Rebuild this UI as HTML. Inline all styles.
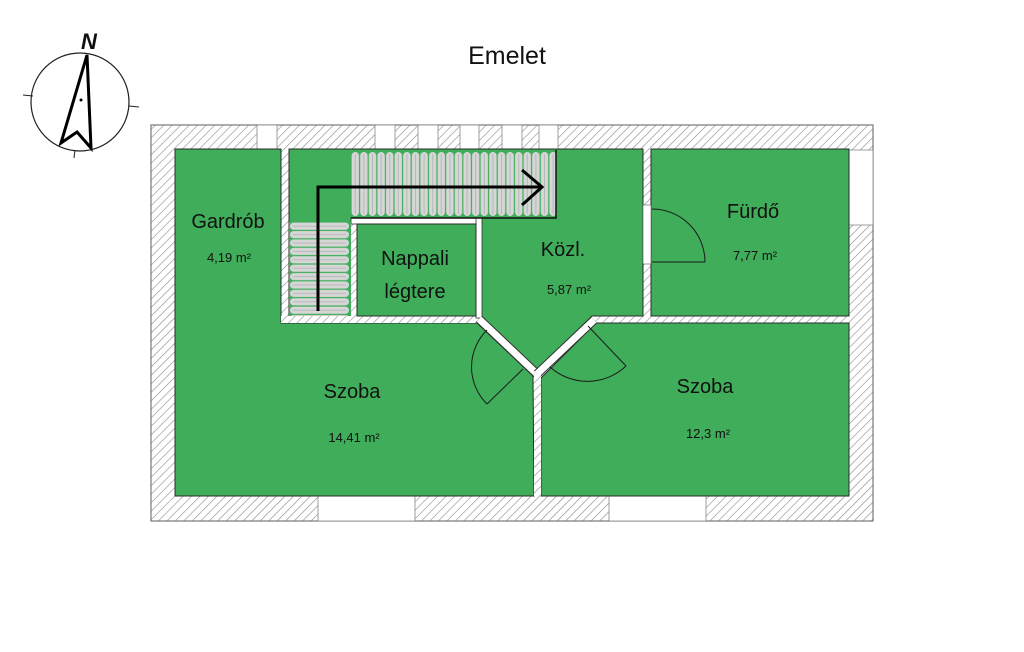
<!DOCTYPE html>
<html><head><meta charset="utf-8"><style>
html,body{margin:0;padding:0;background:#fff;width:1024px;height:652px;overflow:hidden}
svg{display:block}
text{font-family:"Liberation Sans",sans-serif;fill:#111}
</style></head><body>
<svg width="1024" height="652" viewBox="0 0 1024 652" xmlns="http://www.w3.org/2000/svg">
<defs>
<pattern id="h" width="6" height="6" patternUnits="userSpaceOnUse" patternTransform="rotate(45)">
<rect width="6" height="6" fill="#fff"/><line x1="0" y1="0" x2="0" y2="6" stroke="#8a8a8a" stroke-width="1.2"/>
</pattern>
<pattern id="sv" width="8.6" height="70" patternUnits="userSpaceOnUse" x="351" y="150">
<rect width="8.6" height="70" fill="#3fad5a"/><rect x="0.6" y="2" width="7.4" height="64" rx="3.7" fill="#d6d6d6"/><line x1="4.3" y1="4" x2="4.3" y2="64" stroke="#b8b8b8"/>
</pattern>
<pattern id="sh" width="62" height="8.4" patternUnits="userSpaceOnUse" x="289" y="222">
<rect width="62" height="8.4" fill="#3fad5a"/><rect x="1" y="0.6" width="59" height="7.2" rx="3.6" fill="#d6d6d6"/><line x1="4" y1="4.2" x2="57" y2="4.2" stroke="#b8b8b8"/>
</pattern>
</defs>

<text x="507" y="64" font-size="25" text-anchor="middle">Emelet</text>

<!-- compass -->
<circle cx="80" cy="102" r="49" fill="none" stroke="#222" stroke-width="1.2"/>
<line x1="23" y1="95" x2="33" y2="96" stroke="#222"/>
<line x1="129" y1="106" x2="139" y2="107" stroke="#222"/>
<line x1="75" y1="150" x2="74" y2="158" stroke="#222"/>
<polygon points="87,55 91,148 77,132 61,143" fill="none" stroke="#000" stroke-width="3" stroke-linejoin="miter"/>
<circle cx="81" cy="100" r="1.5" fill="#000"/>
<text x="89" y="49" font-size="22" font-weight="bold" text-anchor="middle" font-style="italic">N</text>

<!-- walls -->
<rect x="151" y="125" width="722" height="396" fill="url(#h)" stroke="#777" stroke-width="1.2"/>
<!-- windows -->
<g fill="#fff" stroke="#888" stroke-width="0.8">
<rect x="257" y="125" width="20" height="24"/>
<rect x="375" y="125" width="20" height="24"/>
<rect x="418" y="125" width="20" height="24"/>
<rect x="460" y="125" width="19" height="24"/>
<rect x="502" y="125" width="20" height="24"/>
<rect x="539" y="125" width="19" height="24"/>
<rect x="849" y="150" width="24" height="75"/>
<rect x="318" y="496" width="97" height="25"/>
<rect x="609" y="496" width="97" height="25"/>
</g>

<g fill="#3fad5a" stroke="#2b2b2b" stroke-width="1">
<!-- left szoba + gardrob -->
<polygon points="175,149 281,149 281,323 477,323 533,376 534,496 175,496"/>
<!-- right szoba -->
<polygon points="541,378 596,323 849,323 849,496 541,496"/>
<!-- furdo -->
<rect x="651" y="149" width="198" height="167"/>
<!-- stair + kozl -->
<polygon points="289,149 643,149 643,316 592,316 537,370 481,316 289,316"/>
</g>
<!-- furdo door opening -->
<rect x="643" y="205" width="8" height="59" fill="#fff" stroke="#555" stroke-width="0.6"/>
<!-- Nappali wall + box -->
<rect x="281" y="316" width="199" height="7" fill="url(#h)"/>
<rect x="351" y="219" width="6" height="104" fill="url(#h)"/>
<rect x="351" y="218" width="131" height="6" fill="#fff" stroke="#333" stroke-width="0.8"/>
<rect x="476" y="218" width="6" height="100" fill="#fff" stroke="#333" stroke-width="0.8"/>
<rect x="357" y="224" width="119" height="92" fill="#3fad5a" stroke="#2b2b2b" stroke-width="1"/>

<!-- stairs -->
<rect x="351" y="150" width="205" height="68" fill="url(#sv)"/>
<polyline points="351,218 556,218 556,150" fill="none" stroke="#111" stroke-width="1.5"/>
<rect x="289" y="222" width="62" height="94" fill="url(#sh)"/>
<polyline points="318,311 318,187 541,187" fill="none" stroke="#000" stroke-width="3"/>
<polyline points="522,170 542,187 522,205" fill="none" stroke="#000" stroke-width="3"/>

<!-- diagonal walls -->
<line x1="479" y1="319" x2="537" y2="374" stroke="#333" stroke-width="9"/>
<line x1="479" y1="319" x2="537" y2="374" stroke="#fff" stroke-width="7"/>
<line x1="594" y1="320" x2="537" y2="374" stroke="#333" stroke-width="9"/>
<line x1="594" y1="320" x2="537" y2="374" stroke="#fff" stroke-width="7"/>
<rect x="534" y="374" width="7" height="122" fill="url(#h)"/>

<!-- doors -->
<g fill="none" stroke="#1a1a1a" stroke-width="1">
<path d="M487,330 A52,52 0 0 0 487,404"/>
<line x1="487" y1="404" x2="523" y2="369"/>
<path d="M550,367 A56,56 0 0 0 626,366"/>
<line x1="626" y1="366" x2="588" y2="326"/>
<path d="M652,209 A53,53 0 0 1 705,262"/>
<line x1="652" y1="262" x2="705" y2="262"/>
</g>

<!-- labels -->
<text x="228" y="228" font-size="20" text-anchor="middle">Gardrób</text>
<text x="229" y="262" font-size="13" text-anchor="middle">4,19 m²</text>
<text x="415" y="265" font-size="20" text-anchor="middle">Nappali</text>
<text x="415" y="298" font-size="20" text-anchor="middle">légtere</text>
<text x="563" y="256" font-size="20" text-anchor="middle">Közl.</text>
<text x="569" y="294" font-size="13" text-anchor="middle">5,87 m²</text>
<text x="753" y="218" font-size="20" text-anchor="middle">Fürdő</text>
<text x="755" y="260" font-size="13" text-anchor="middle">7,77 m²</text>
<text x="352" y="398" font-size="20" text-anchor="middle">Szoba</text>
<text x="354" y="442" font-size="13" text-anchor="middle">14,41 m²</text>
<text x="705" y="393" font-size="20" text-anchor="middle">Szoba</text>
<text x="708" y="438" font-size="13" text-anchor="middle">12,3 m²</text>
</svg>
</body></html>
